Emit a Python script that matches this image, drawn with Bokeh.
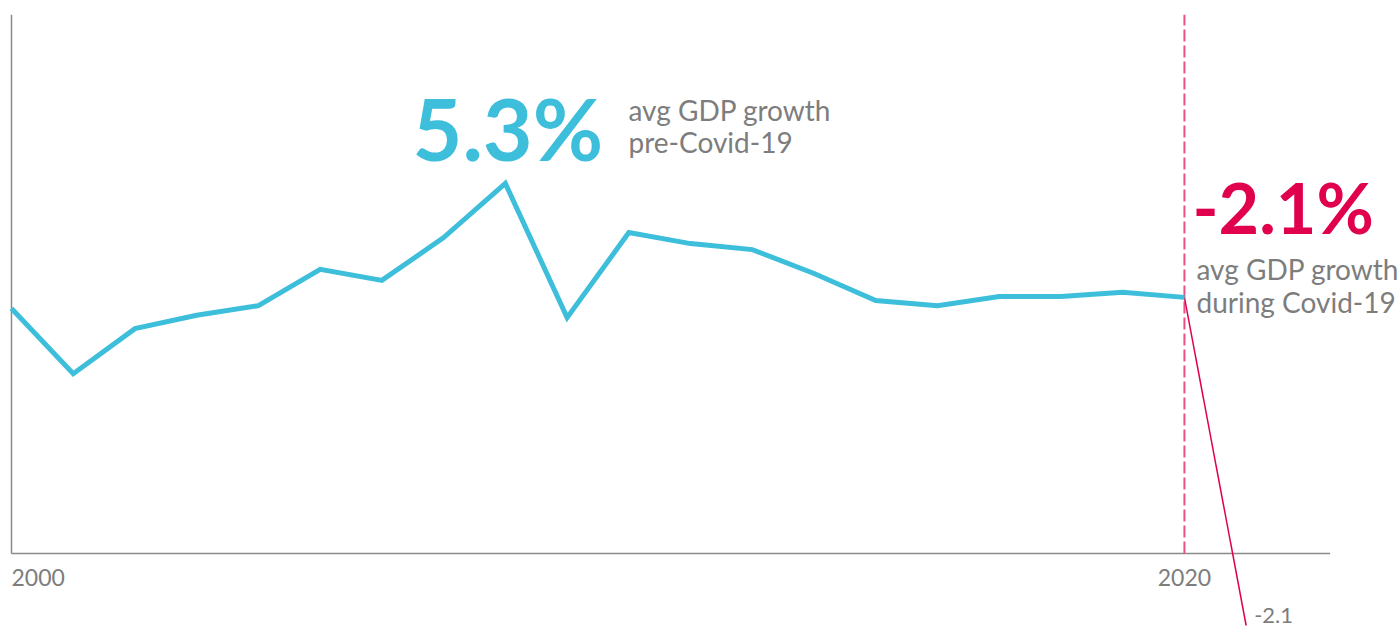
from bokeh.plotting import figure
from bokeh.models import Label
from bokeh.core.properties import value
from bokeh.embed import file_html
from bokeh.resources import INLINE

# ---- data ----
years = list(range(2000, 2020))
growth = [4.80, 3.38, 4.36, 4.65, 4.86, 5.65, 5.41, 6.34, 7.52, 4.60,
          6.45, 6.21, 6.08, 5.56, 4.97, 4.86, 5.06, 5.06, 5.15, 5.04]
covid_year = 2020
covid_growth = -2.1
tick_labels = ["2000", "2020"]
avg_pre = "5.3%"
avg_during = "-2.1%"

TEAL = "#3dbedb"
CRIMSON = "#e0004d"
PINK = "#ec4f86"
GREY = "#7d7d7d"
AXIS = "#8a8a8a"
FONT = "Lato"

idx = list(range(len(years)))
covid_idx = len(years)

p = figure(width=1400, height=628, x_range=(-0.178, 22.5), y_range=(-2.165, 11.5),
           min_border=0, toolbar_location=None, output_backend="svg")
p.axis.visible = False
p.grid.visible = False
p.outline_line_color = None
p.background_fill_color = "white"
p.border_fill_color = "white"

axis_y = -0.533
axis_top = 11.19
x_end = 21.36

# axes lines
p.segment(x0=[0], y0=[axis_y], x1=[x_end], y1=[axis_y], line_color=AXIS, line_width=1.5)
p.segment(x0=[0], y0=[axis_y], x1=[0], y1=[axis_top], line_color=AXIS, line_width=1.5)

# covid dashed marker
p.segment(x0=[idx[-1]], y0=[axis_y], x1=[idx[-1]], y1=[axis_top], line_color=PINK,
          line_width=2, line_dash="12 4")

# covid drop line
p.line([idx[-1], covid_idx], [growth[-1], covid_growth], line_color=CRIMSON, line_width=1.5)

# main line
p.line(idx, growth, line_color=TEAL, line_width=5, line_join="miter")

# tick labels
p.text(x=[0], y=[axis_y], text=[tick_labels[0]], text_font=value(FONT), text_font_size="23px",
       text_color=GREY, text_align="left", text_baseline="alphabetic", y_offset=24)
p.text(x=[idx[-1]], y=[axis_y], text=[tick_labels[1]], text_font=value(FONT), text_font_size="23px",
       text_color=GREY, text_align="center", text_baseline="alphabetic", y_offset=24)

# -2.1 value label
p.text(x=[covid_idx], y=[covid_growth], text=[f"{covid_growth}"], text_font=value(FONT),
       text_font_size="22px", text_color=GREY, text_align="left", text_baseline="alphabetic",
       x_offset=8, y_offset=-10)

H = 628
def lab(x, y_px, text, size, color, bold=False):
    p.add_layout(Label(x=x, y=H - y_px, x_units="screen", y_units="screen", text=text,
                       text_font=FONT, text_font_size=f"{size}px", text_color=color,
                       text_font_style="bold" if bold else "normal",
                       text_baseline="alphabetic", text_align="left"))

lab(412, 127, avg_pre, 86, TEAL, True)
lab(628, 109, "avg GDP growth", 28, GREY)
lab(628, 141, "pre-Covid-19", 28, GREY)

lab(1192, 206, avg_during, 70, CRIMSON, True)
lab(1196, 268, "avg GDP growth", 28, GREY)
lab(1196, 301, "during Covid-19", 28, GREY)

open("out.html", "w").write(file_html(p, INLINE))
